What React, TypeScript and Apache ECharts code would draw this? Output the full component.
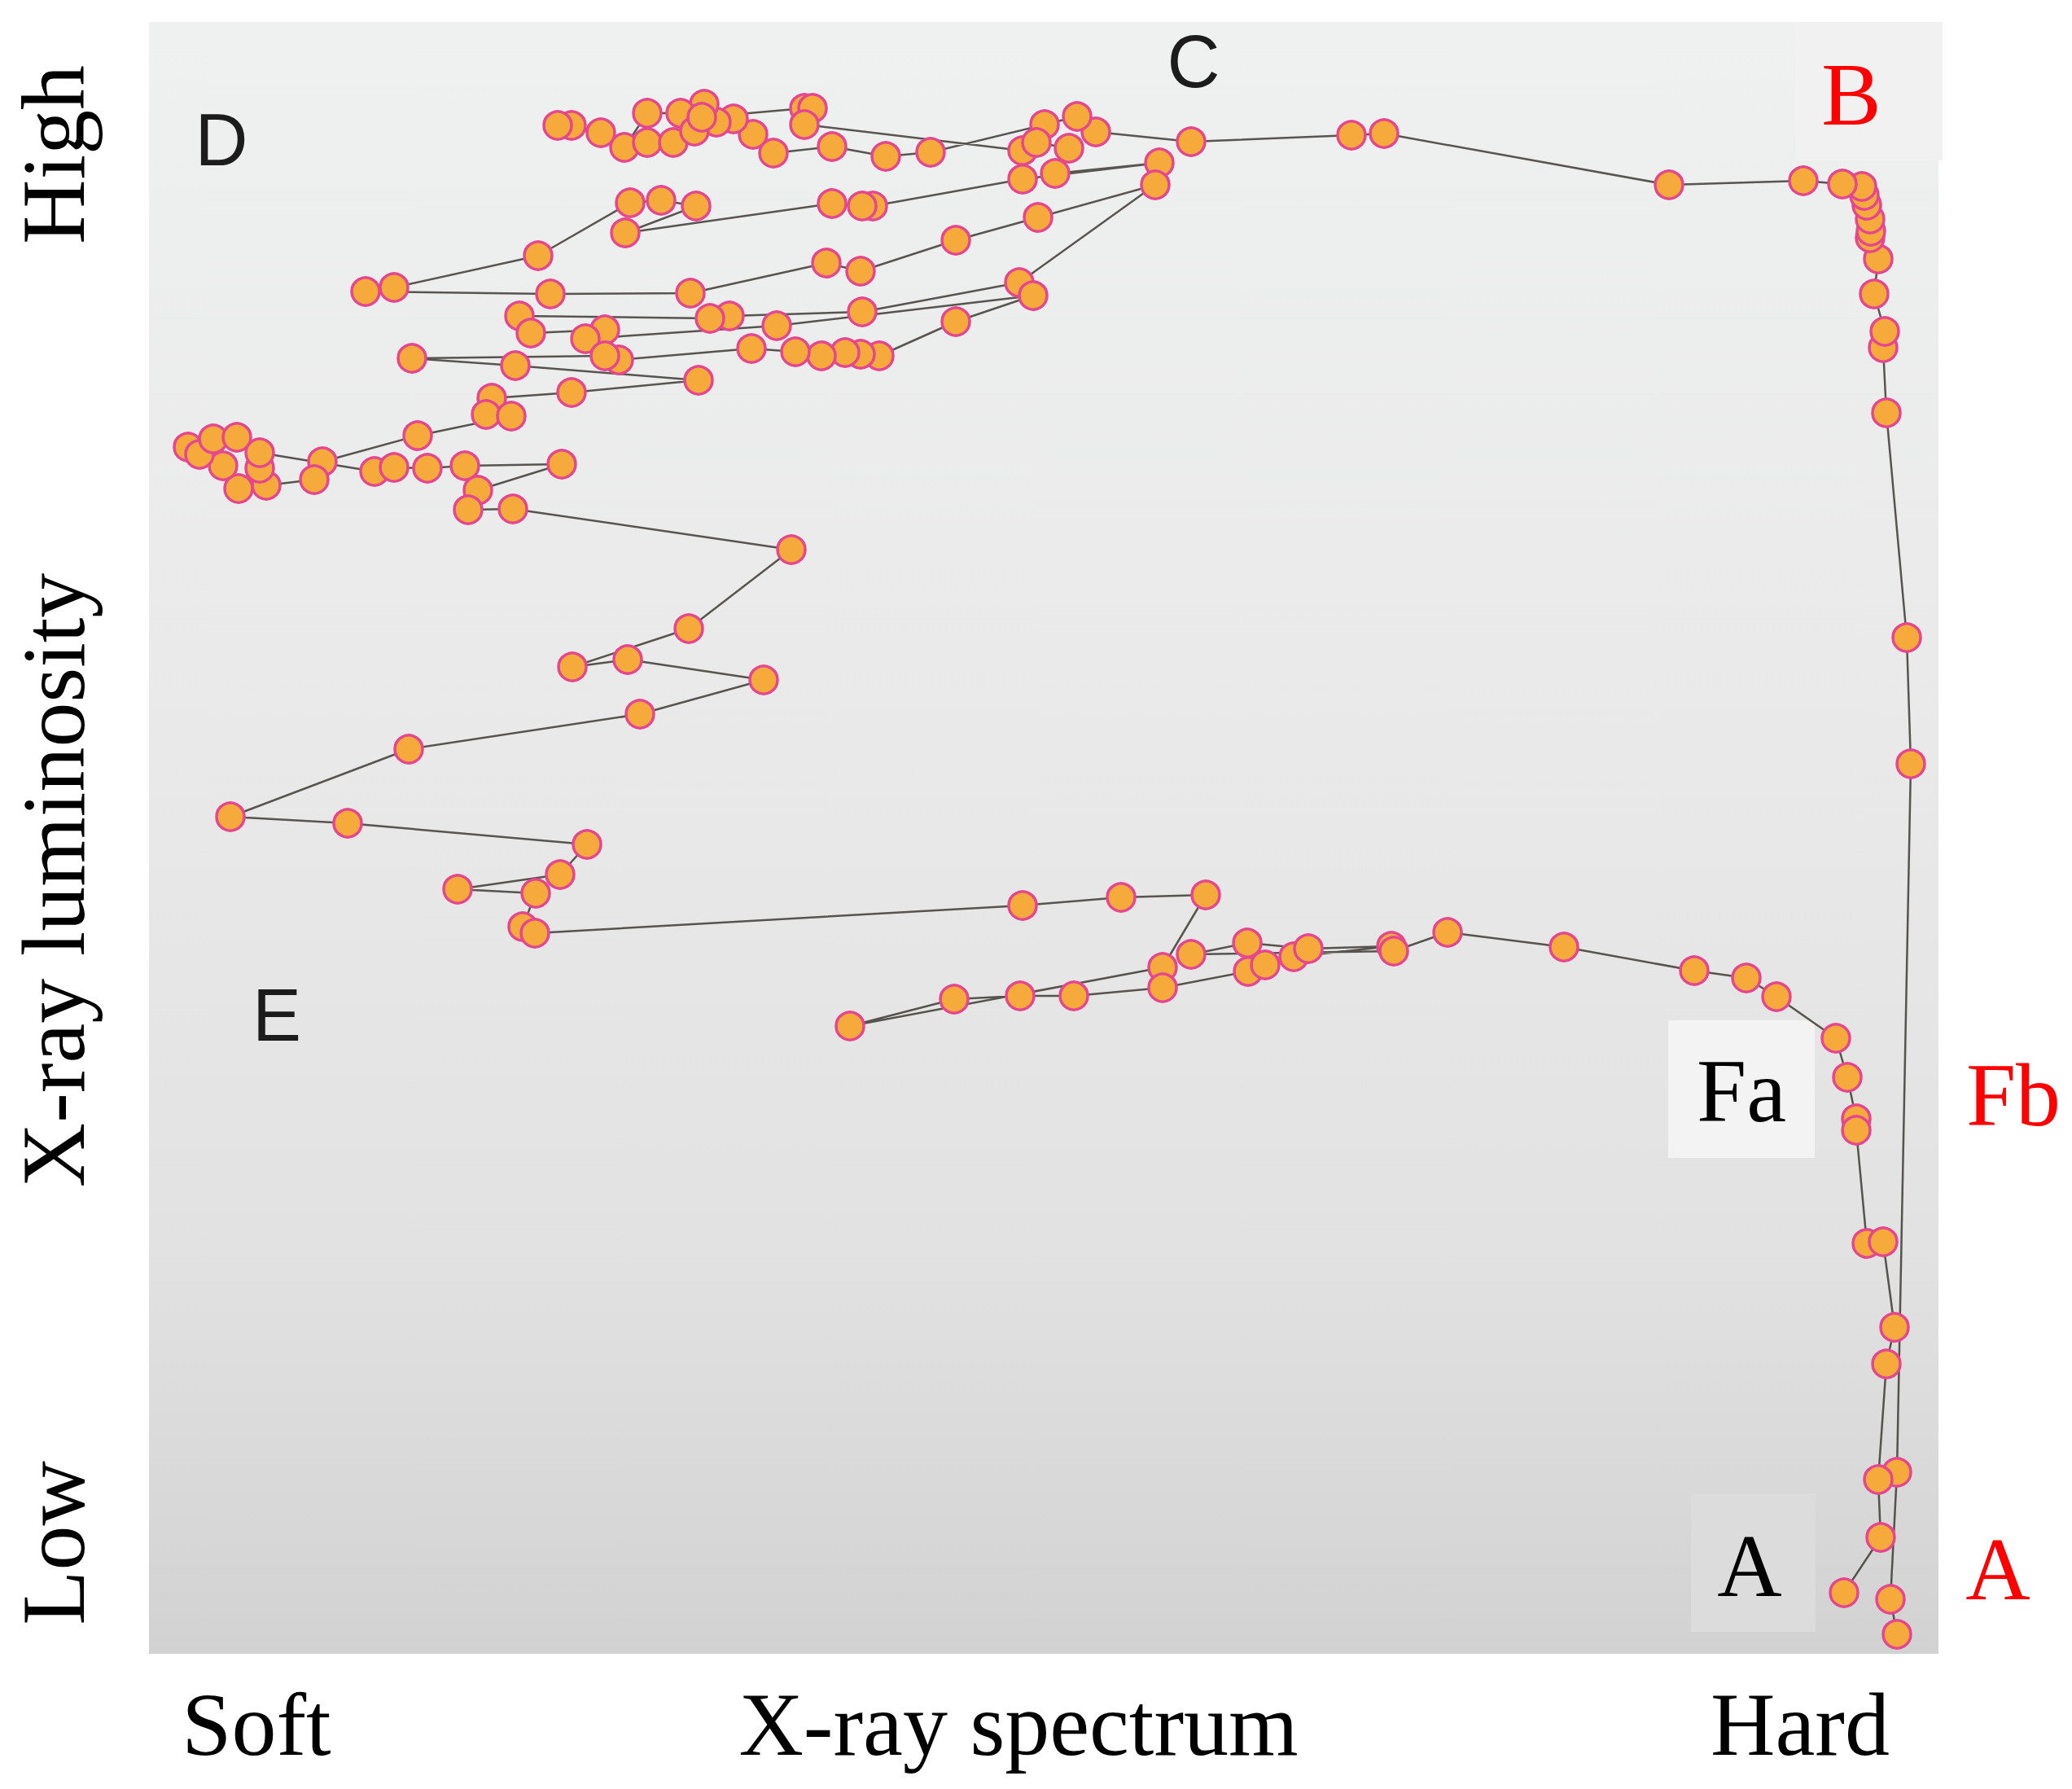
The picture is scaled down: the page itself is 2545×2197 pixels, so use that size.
import React, { useEffect, useRef } from "react";
import * as echarts from "echarts";

// Hardness (x) and luminosity (y) in arbitrary units.
// A -> B : hard state rise
const segmentAB: [number, number][] = [
  [2147, 22], [2139, 65], [2147, 221], [2164, 1091], [2159, 1246], [2134, 1522],
  [2130, 1602], [2132, 1622], [2119, 1668], [2124, 1711], [2114, 1737], [2115, 1745],
  [2114, 1760], [2110, 1777], [2107, 1789], [2104, 1800], [2080, 1803], [2032, 1807],
  [1867, 1802],
];
// B -> C : hard-to-soft transition
const segmentBC: [number, number][] = [
  [1517, 1865], [1477, 1863], [1280, 1855],
];
// C -> D : soft state at high luminosity
const segmentCD: [number, number][] = [
  [1163, 1867], [1140, 1886], [1100, 1876], [960, 1842], [905, 1837], [839, 1849],
  [767, 1841], [742, 1864], [718, 1883], [697, 1879], [682, 1901], [653, 1890],
  [612, 1890], [584, 1848], [555, 1866], [519, 1875], [502, 1875], [612, 1854],
  [644, 1854], [670, 1868], [679, 1885], [805, 1896], [815, 1896], [805, 1876],
  [1073, 1844], [1090, 1854], [1130, 1847], [1113, 1816], [1241, 1829], [1073, 1809],
  [889, 1776], [876, 1776], [839, 1779], [585, 1743], [672, 1776], [629, 1783],
  [591, 1780], [478, 1715], [301, 1676], [266, 1671], [493, 1668], [665, 1669],
  [832, 1706], [874, 1696], [991, 1734], [1092, 1762], [1236, 1802], [1069, 1682],
  [876, 1646], [713, 1641], [689, 1638], [455, 1641], [469, 1620], [560, 1624],
  [536, 1613], [771, 1629], [1086, 1666], [991, 1634], [897, 1592], [874, 1594],
  [855, 1596], [826, 1592], [794, 1597], [740, 1601], [577, 1587], [560, 1592],
  [323, 1589], [450, 1580], [675, 1562], [519, 1547], [421, 1540], [414, 1520],
  [445, 1518], [330, 1494], [213, 1462], [203, 1440], [144, 1433], [136, 1454],
  [110, 1429], [91, 1457], [48, 1480], [62, 1471], [79, 1490], [108, 1492],
  [136, 1473], [277, 1450], [301, 1455], [342, 1454], [388, 1457], [507, 1459],
  [404, 1427], [392, 1403], [447, 1404],
];
// D -> E : soft state decay
const segmentDE: [number, number][] = [
  [789, 1354], [663, 1257], [520, 1210], [588, 1219], [755, 1194], [603, 1152],
  [319, 1109], [100, 1026], [244, 1018], [538, 992], [505, 955], [379, 937],
  [475, 932], [459, 891], [474, 883],
];
// E -> Fa -> A : soft-to-hard return
const segmentEA: [number, number][] = [
  [1073, 917], [1194, 927], [1298, 930], [1245, 841], [861, 769], [989, 802],
  [1070, 806], [1136, 806], [1245, 816], [1350, 836], [1371, 844], [1406, 854],
  [1526, 867], [1424, 864], [1349, 871], [1280, 857], [1529, 861], [1595, 884],
  [1738, 866], [1898, 837], [1962, 828], [1999, 805], [2072, 754], [2086, 706],
  [2097, 655], [2097, 641], [2110, 502], [2130, 504], [2144, 399], [2134, 354],
  [2124, 212], [2127, 141], [2082, 73],
];

const stateLabels = ["A", "B", "C", "D", "E", "Fa", "Fb"];
const axisTexts = { xLeft: "Soft", xMid: "X-ray spectrum", xRight: "Hard", yTop: "High", yMid: "X-ray luminosity", yBottom: "Low" };

const SERIF = "'Liberation Serif', 'Times New Roman', serif";
const SANS = "'Liberation Sans', Arial, sans-serif";

export default function App() {
  const ref = useRef<HTMLDivElement>(null);

  useEffect(() => {
    document.body.style.margin = "0";
    if (!ref.current) return;
    const chart = echarts.init(ref.current, undefined, { renderer: "svg" });

    const track = [...segmentAB, ...segmentBC, ...segmentCD, ...segmentDE, ...segmentEA];

    const serifText = (text: string, x: number, y: number, fill: string, rotation = 0) => ({
      type: "text",
      x,
      y,
      rotation,
      z: 20,
      style: {
        text,
        fontFamily: SERIF,
        fontSize: 110,
        fill,
        align: "center",
        verticalAlign: "middle",
      },
    });
    const sansText = (text: string, x: number, y: number) => ({
      type: "text",
      x,
      y,
      z: 20,
      style: {
        text,
        fontFamily: SANS,
        fontSize: 90,
        fill: "#1c1c1c",
        align: "center",
        verticalAlign: "middle",
      },
    });
    const box = (x: number, y: number, w: number, h: number, fill: string) => ({
      type: "rect",
      z: 1,
      shape: { x, y, width: w, height: h },
      style: { fill },
    });

    chart.setOption({
      animation: false,
      backgroundColor: "#ffffff",
      grid: {
        left: 183,
        top: 27,
        width: 2198,
        height: 2004,
        show: true,
        borderWidth: 0,
        backgroundColor: new echarts.graphic.LinearGradient(0, 0, 0, 1, [
          { offset: 0, color: "#eff0f0" },
          { offset: 0.45, color: "#e8e9e8" },
          { offset: 0.75, color: "#e1e2e1" },
          { offset: 1, color: "#d1d2d1" },
        ]),
      },
      xAxis: { type: "value", min: 0, max: 2198, show: false },
      yAxis: { type: "value", min: -2, max: 2002, show: false },
      series: [
        {
          type: "line",
          data: track,
          symbol: "circle",
          symbolSize: 34,
          showSymbol: true,
          clip: false,
          z: 5,
          lineStyle: { color: "#3e3935", width: 2.5, opacity: 0.85 },
          itemStyle: { color: "#f5aa3b", borderColor: "#e4478f", borderWidth: 3.5 },
        },
      ],
      graphic: [
        box(2205, 27, 181, 170, "#f1f1f1"),
        box(2049, 1253, 180, 169, "#f3f3f3"),
        box(2077, 1834, 153, 170, "#dcdcdc"),
        sansText(stateLabels[2], 1466, 76),
        sansText(stateLabels[3], 272, 172),
        sansText(stateLabels[4], 340, 1247),
        serifText(stateLabels[1], 2274, 116, "#ff0000"),
        serifText(stateLabels[5], 2139, 1340, "#000000"),
        serifText(stateLabels[0], 2149, 1923, "#000000"),
        serifText(stateLabels[0], 2454, 1927, "#ff0000"),
        serifText(stateLabels[6], 2473, 1345, "#ff0000"),
        serifText(axisTexts.xLeft, 315, 2118, "#000000"),
        serifText(axisTexts.xMid, 1251, 2118, "#000000"),
        serifText(axisTexts.xRight, 2211, 2118, "#000000"),
        serifText(axisTexts.yTop, 66, 190, "#000000", Math.PI / 2),
        serifText(axisTexts.yMid, 66, 1081, "#000000", Math.PI / 2),
        serifText(axisTexts.yBottom, 66, 1895, "#000000", Math.PI / 2),
      ],
    });

    return () => chart.dispose();
  }, []);

  return (
    <div
      ref={ref}
      style={{ position: "absolute", left: 0, top: 0, width: "2545px", height: "2197px" }}
    />
  );
}
